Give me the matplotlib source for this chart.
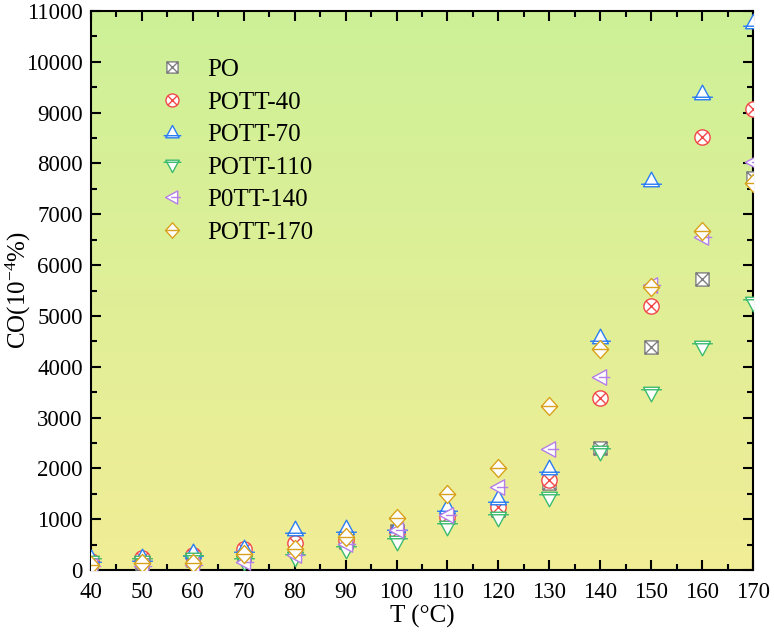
import numpy as np
import matplotlib
matplotlib.use("Agg")
import matplotlib.pyplot as plt
from matplotlib.path import Path
from matplotlib.ticker import MultipleLocator

plt.rcParams['font.family'] = ['Liberation Serif', 'DejaVu Serif']
plt.rcParams['mathtext.fontset'] = 'custom'
plt.rcParams['mathtext.rm'] = 'Liberation Serif'
plt.rcParams['mathtext.it'] = 'Liberation Serif:italic'

T = [40, 50, 60, 70, 80, 90, 100, 110, 120, 130, 140, 150, 160, 170]
PO       = [130, 140, 200, 300, 450, 560, 760, 1050, 1180, 1720, 2395, 4384, 5722, 7710]
POTT_40  = [180, 230, 300, 420, 530, 590, 750, 1050, 1234, 1772, 3392, 5203, 8530, 9081]
POTT_70  = [236, 250, 350, 440, 810, 820, 860, 1240, 1410, 2000, 4593, 7677, 9396, 10774]
POTT_110 = [150, 150, 220, 160, 240, 390, 560, 853, 1017, 1410, 2329, 3478, 4396, 5262]
P0TT_140 = [80, 70, 100, 160, 300, 510, 790, 1083, 1627, 2375, 3806, 5610, 6561, 8025]
POTT_170 = [90, 130, 130, 320, 420, 650, 1020, 1496, 2000, 3228, 4344, 5565, 6680, 7625]

labels = ['PO', 'POTT-40', 'POTT-70', 'POTT-110', 'P0TT-140', 'POTT-170']
series = [PO, POTT_40, POTT_70, POTT_110, P0TT_140, POTT_170]
colors = ['#808080', '#f24848', '#2a7df2', '#3dbb6e', '#b57ee8', '#d9a21c']


def compound(*parts):
    verts, codes = [], []
    for v, c in parts:
        verts.extend(v)
        codes.extend(c)
    return Path(verts, codes)


def closed(pts):
    return (pts + [pts[0]], [Path.MOVETO] + [Path.LINETO] * (len(pts) - 1) + [Path.CLOSEPOLY])


def seg(a, b):
    return ([a, b], [Path.MOVETO, Path.LINETO])


circ = Path.unit_circle()
d = 0.72
m_sq = compound(closed([(-1, -1), (1, -1), (1, 1), (-1, 1)]), seg((-1, -1), (1, 1)), seg((-1, 1), (1, -1)))
m_ci = compound((list(circ.vertices), list(circ.codes)), seg((-d, -d), (d, d)), seg((-d, d), (d, -d)))
m_up = compound(closed([(0, 1), (-0.95, -0.75), (0.95, -0.75)]), seg((-1.25, -0.45), (1.25, -0.45)))
m_dn = compound(closed([(0, -1), (-0.95, 0.75), (0.95, 0.75)]), seg((-1.25, 0.45), (1.25, 0.45)))
m_lt = compound(closed([(-1, 0), (0.75, 0.95), (0.75, -0.95)]), seg((-0.2, 0), (1.2, 0)))
m_di = compound(closed([(0, 1), (0.9, 0), (0, -1), (-0.9, 0)]), seg((-0.9, 0), (0.9, 0)))
markers = [m_sq, m_ci, m_up, m_dn, m_lt, m_di]
sizes = [9.5, 11, 15, 15, 14, 13]

fig = plt.figure(figsize=(7.74, 6.33), dpi=100)
ax = fig.add_axes([91 / 774, 1 - 570 / 633, (753 - 91) / 774, (570 - 11) / 633])

# gradient background
top = np.array([205, 241, 152]) / 255
bot = np.array([241, 237, 150]) / 255
t = np.linspace(0, 1, 256)[:, None]
grad = (top[None, :] * (1 - t) + bot[None, :] * t)[:, None, :]
ax.imshow(grad, extent=[0, 1, 0, 1], transform=ax.transAxes, aspect='auto', zorder=0)

for y, lab, c, m, s in zip(series, labels, colors, markers, sizes):
    ax.plot(T, y, linestyle='none', marker=m, markersize=s, markerfacecolor='white',
            markeredgecolor=c, markeredgewidth=1.0, label=lab, zorder=3)

ax.set_xlim(40, 170)
ax.set_ylim(0, 11000)
ax.xaxis.set_major_locator(MultipleLocator(10))
ax.xaxis.set_minor_locator(MultipleLocator(5))
ax.yaxis.set_major_locator(MultipleLocator(1000))
ax.yaxis.set_minor_locator(MultipleLocator(500))
ax.tick_params(which='both', direction='in', top=True, right=True, width=1.5, labelsize=16.5, colors='black')
ax.tick_params(which='major', length=7, pad=6)
ax.tick_params(which='minor', length=4)
ax.tick_params(axis='x', which='major', pad=9)
for sp in ax.spines.values():
    sp.set_linewidth(1.5)

ax.set_xlabel('T (°C)', fontsize=18, va='top')
ax.xaxis.set_label_coords(0.5, -0.063)
ax.set_ylabel(r'CO(10$^{\mathrm{-4}}$%)', fontsize=18, va='center')
ax.yaxis.set_label_coords(-0.11, 0.5)

leg = ax.legend(loc='upper left', bbox_to_anchor=(0.07, 0.955), frameon=False, fontsize=18,
                handletextpad=0.9, labelspacing=0.40, handlelength=1.0, markerscale=0.85)

fig.savefig('out.png', dpi=100)
